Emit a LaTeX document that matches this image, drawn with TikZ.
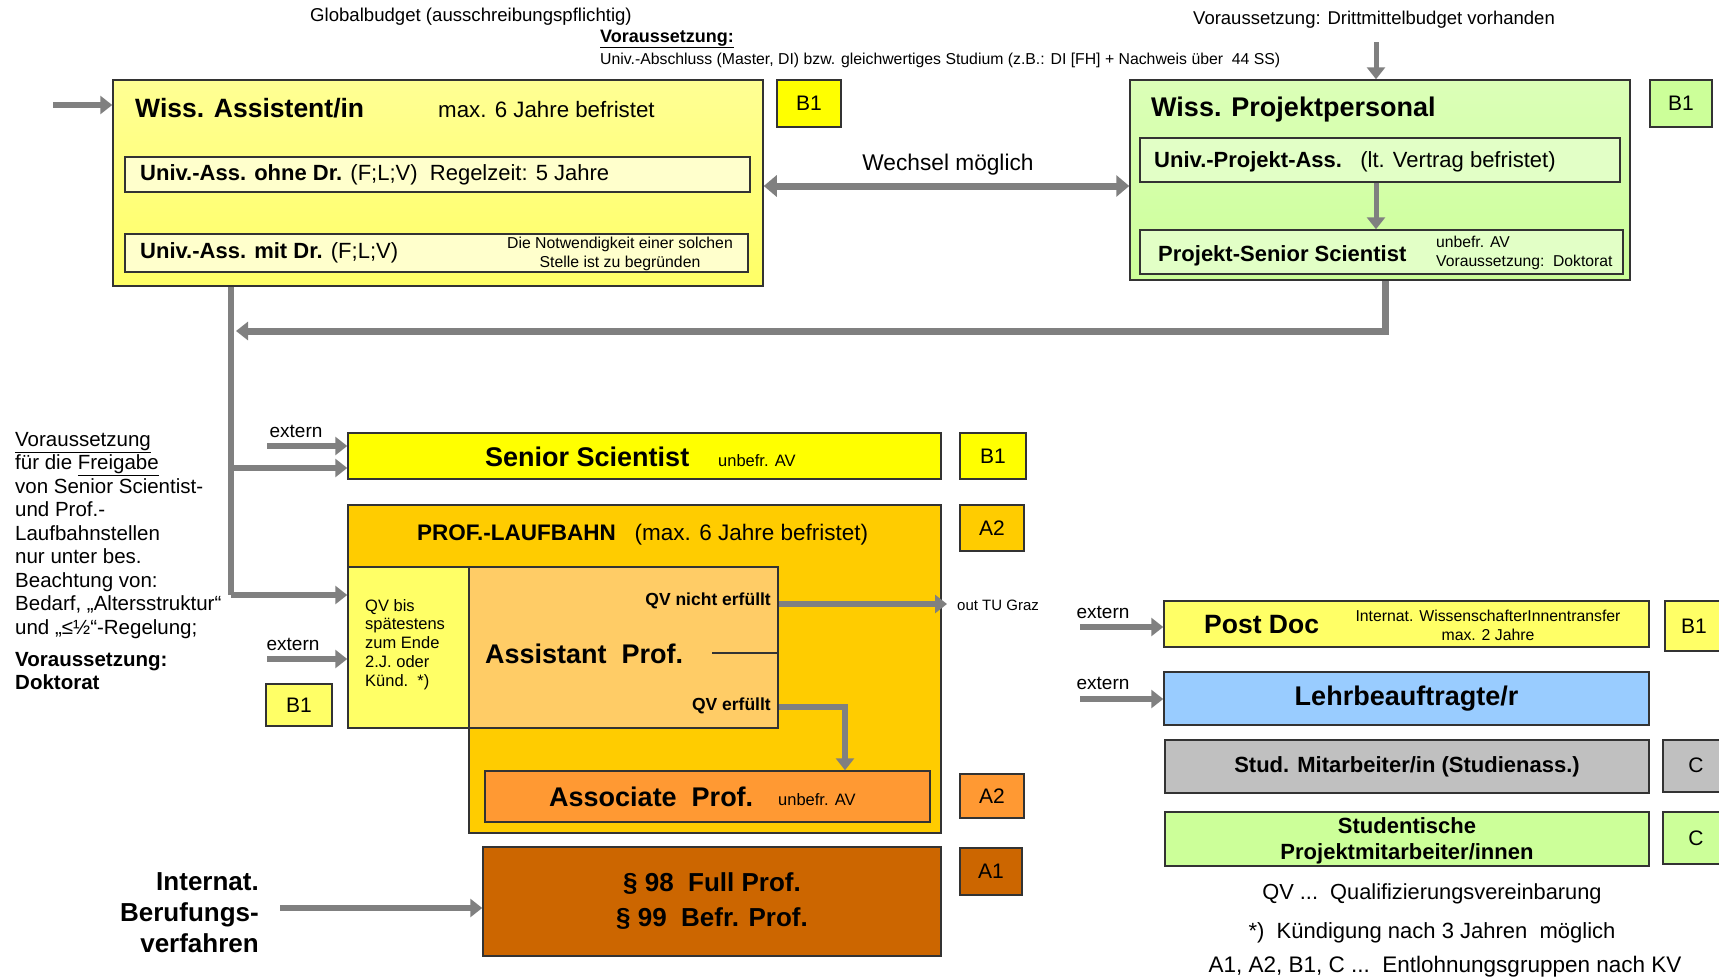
\documentclass[tikz,border=0pt]{standalone}
\usepackage{fontspec}
\setmainfont{Liberation Sans}
\usetikzlibrary{arrows.meta,fit}
\definecolor{ylw}{HTML}{FFFF66}
\definecolor{ylwlt}{HTML}{FFFFCC}
\definecolor{ylwb}{HTML}{FFFF00}
\definecolor{grn}{HTML}{CCFF99}
\definecolor{grnlt}{HTML}{E2FFC6}
\definecolor{gold}{HTML}{FFCC00}
\definecolor{aprof}{HTML}{FFCC66}
\definecolor{orng}{HTML}{FF9933}
\definecolor{dorng}{HTML}{CC6600}
\definecolor{lblue}{HTML}{99CCFF}
\definecolor{gry}{HTML}{C0C0C0}
\definecolor{arr}{HTML}{808080}
\definecolor{edge}{HTML}{333333}
\newcommand\fz[2]{\fontsize{#1}{#2}\selectfont}
\begin{document}
\begin{tikzpicture}[x=1pt,y=-1pt,
  box/.style={draw=edge, line width=1.5pt, inner sep=0pt},
  conn/.style={draw=arr, line width=6pt, -{Triangle[length=12pt,width=18pt]}},
  plainline/.style={draw=arr, line width=6pt},
  txt/.style={inner sep=0pt},
  grp/.style={txt, font=\fz{21}{25}},
]
\fill[white] (0,0) rectangle (1719,977);
\useasboundingbox (0,0) rectangle (1719,977);

% ---------- top texts
\node[txt, anchor=west, font=\fz{18.6}{22}] (gb) at (310,17) {Globalbudget (ausschreibungspflichtig)};
\node[txt, anchor=west, font=\fz{18}{21}\bfseries] (vz) at (600,39) {\underline{Voraussetzung:}};
\node[txt, anchor=west, font=\fz{15.8}{19}] (ua) at (600,60) {Univ.-Abschluss (Master, DI) bzw. gleichwertiges Studium (z.B.: DI [FH] + Nachweis über\ \ 44 SS)};
\node[txt, font=\fz{18.5}{22}] (dm) at (1374,20) {Voraussetzung: Drittmittelbudget vorhanden};

% ---------- Wiss. Assistent/in
\node[box, fit={(113,80)(763,286)}, top color=ylw!70!white, bottom color=ylw] (wa) {};
\node[txt, anchor=west, font=\fz{26.5}{30}\bfseries] (wat) at (135,108) {Wiss. Assistent/in};
\node[txt, anchor=west, font=\fz{22.3}{26}] (wam) at (438,110) {max. 6 Jahre befristet};
\node[box, fit={(777,80)(841,127)}, fill=ylwb] (b1a) {};
\node[grp] (b1at) at (b1a) {B1};
\node[box, fit={(125,157)(750,192)}, fill=ylwlt] (ua1) {};
\node[txt, anchor=west, font=\fz{22}{26}] (ua1t) at (140,175) {\textbf{Univ.-Ass. ohne Dr.} (F;L;V)\ \ Regelzeit: 5 Jahre};
\node[box, fit={(125,234)(748,272)}, fill=ylwlt] (ua2) {};
\node[txt, anchor=west, font=\fz{22}{26}] (ua2t) at (140,253) {\textbf{Univ.-Ass. mit Dr.} (F;L;V)};
\node[txt, align=center, font=\fz{15.8}{19}] (ua2n) at (620,254) {Die Notwendigkeit einer solchen\\Stelle ist zu begründen};
\coordinate (inl) at (53,105);
\draw[conn] (inl) -- (wa.west |- inl);

% ---------- Wiss. Projektpersonal
\node[box, fit={(1130,80)(1630,280)}, top color=grn!70!white, bottom color=grn] (pp) {};
\node[txt, anchor=west, font=\fz{27}{31}\bfseries] (ppt) at (1151,110) {Wiss. Projektpersonal};
\node[box, fit={(1650,80)(1712,127)}, fill=grn] (b1b) {};
\node[grp] (b1bt) at (b1b) {B1};
\node[box, fit={(1140,138)(1620,182)}, fill=grnlt] (pa) {};
\node[txt, anchor=west, font=\fz{22}{26}] (pat) at (1154,162) {\textbf{Univ.-Projekt-Ass.}\ \ \ (lt. Vertrag befristet)};
\node[box, fit={(1140,230)(1623,274)}, fill=grnlt] (ps) {};
\node[txt, anchor=west, font=\fz{22}{26}\bfseries] (pst) at (1158,256) {Projekt-Senior Scientist};
\node[txt, anchor=west, align=left, font=\fz{15.7}{19}] (psn) at (1436,253) {unbefr. AV\\Voraussetzung:\ \ Doktorat};
\draw[conn, line width=5pt] (pa.south -| 1376,0) -- (ps.north -| 1376,0);
\coordinate (dma) at (1376,42);
\draw[conn, line width=5pt] (dma) -- (pp.north -| dma);

% ---------- Wechsel
\node[txt, font=\fz{22.7}{26}] (wm) at (948,165) {Wechsel möglich};
\coordinate (wy) at (0,186);
\draw[draw=arr, line width=7pt, {Triangle[length=13pt,width=21pt]}-{Triangle[length=13pt,width=21pt]}] (wa.east |- wy) -- (pp.west |- wy);

% ---------- trunk & return
\coordinate (rt) at (1385,331);
\coordinate (rtend) at (236,331);
\draw[conn, line width=7pt] (pp.south -| rt) -- (rt) -- (rtend);
\coordinate (trunk) at (231,595);
\coordinate (br1) at (231,468);

% ---------- Senior Scientist
\node[box, fit={(348,433)(941,479)}, fill=ylwb] (ss) {};
\node[txt, anchor=west, font=\fz{27}{31}\bfseries] (sst) at (485,457) {Senior Scientist};
\node[txt, anchor=west, font=\fz{16.5}{19}] (ssn) at (718,461) {unbefr. AV};
\node[box, fit={(960,433)(1026,479)}, fill=ylwb] (b1c) {};
\node[grp] (b1ct) at (b1c) {B1};
\node[txt, font=\fz{19}{22}] (ex1t) at (296,431) {extern};
\coordinate (ex1) at (267,446);
\draw[conn] (ex1) -- (ss.west |- ex1);

% ---------- Prof.-Laufbahn
\draw[draw=edge, line width=1.5pt, fill=gold] (348,505) -- (941,505) -- (941,833) -- (469,833) -- (469,728) -- (348,728) -- cycle;
\node[txt, anchor=west, font=\fz{22.5}{26}] (plt) at (417,535) {\textbf{PROF.-LAUFBAHN}\ \ \ (max. 6 Jahre befristet)};
\node[box, fit={(960,505)(1024,551)}, fill=gold] (a2a) {};
\node[grp] (a2at) at (a2a) {A2};
\node[box, fit={(348,567)(469,728)}, fill=ylw] (qv) {};
\node[txt, anchor=north west, align=left, font=\fz{16.5}{18.8}] (qvt) at (365,599) {QV bis\\spätestens\\zum Ende\\2.J. oder\\Künd.\ \ *)};
\node[box, fit={(469,567)(778,728)}, fill=aprof] (ap) {};
\node[txt, anchor=west, font=\fz{27}{31}\bfseries] (apt) at (485,654) {Assistant\ \ Prof.};
\coordinate (apl) at (712,653);
\draw[edge, line width=1.5pt] (apl) -- (ap.east |- apl);
\node[txt, anchor=east, font=\fz{17.5}{21}\bfseries] (qvn) at (771,601) {QV nicht erfüllt};
\node[txt, anchor=east, font=\fz{17.5}{21}\bfseries] (qve) at (771,706) {QV erfüllt};
\coordinate (outtu) at (947,604);
\draw[conn] (ap.east |- outtu) -- (outtu);
\node[txt, anchor=west, font=\fz{15}{18}] (outt) at (957,605) {out TU Graz};

% ---------- Associate Prof
\node[box, fit={(485,771)(930,822)}, fill=orng] (as) {};
\node[txt, anchor=west, font=\fz{27}{31}\bfseries] (ast) at (549,797) {Associate\ \ Prof.};
\node[txt, anchor=west, font=\fz{16.5}{19}] (asn) at (778,800) {unbefr. AV};
\node[box, fit={(960,774)(1024,818)}, fill=orng] (a2b) {};
\node[grp] (a2bt) at (a2b) {A2};
\coordinate (qvk) at (845,707);
\draw[conn] (ap.east |- qvk) -- (qvk) -- (as.north -| qvk);

% ---------- Full Prof
\node[box, fit={(483,847)(941,956)}, fill=dorng] (fp) {};
\node[txt, align=center, font=\fz{26}{35}\bfseries] (fpt) at (fp) {§ 98\ \ Full Prof.\\§ 99\ \ Befr. Prof.};
\node[box, fit={(960,848)(1022,895)}, fill=dorng] (a1) {};
\node[grp] (a1t) at (a1) {A1};
\node[txt, anchor=north east, align=right, font=\fz{26}{31}\bfseries] (ib) at (259,872) {Internat.\\Berufungs-\\verfahren};
\coordinate (iba) at (280,908);
\draw[conn] (iba) -- (fp.west |- iba);

% ---------- trunk lines
\draw[plainline] (wa.south -| trunk) -- (trunk);
\draw[conn] (trunk) -- (qv.west |- trunk);
\draw[conn] (br1) -- (ss.west |- br1);

% ---------- lower extern
\node[txt, font=\fz{19}{22}] (ex2t) at (293,644) {extern};
\coordinate (ex2) at (267,659);
\draw[conn] (ex2) -- (qv.west |- ex2);
\node[box, fit={(266,684)(332,726)}, fill=ylw] (b1d) {};
\node[grp] (b1dt) at (b1d) {B1};

% ---------- left text
\node[txt, anchor=north west, align=left, font=\fz{20.5}{23.5}] (lt) at (15,432) {\underline{Voraussetzung}\\für die \underline{Freigabe}\\von Senior Scientist-\\und Prof.-\\Laufbahnstellen\\nur unter bes.\\Beachtung von:\\Bedarf, „Altersstruktur“\\und „≤½“-Regelung;};
\node[txt, anchor=north west, align=left, font=\fz{20.5}{23.5}\bfseries] (lt2) at (15,652) {Voraussetzung:\\Doktorat};

% ---------- right column
\node[box, fit={(1164,601)(1649,647)}, fill=ylw] (pd) {};
\node[txt, anchor=west, font=\fz{26.5}{30}\bfseries] (pdt) at (1204,625) {Post Doc};
\node[txt, align=center, font=\fz{15.8}{19}] (pdn) at (1488,625) {Internat. WissenschafterInnentransfer\\max. 2 Jahre};
\node[box, fit={(1665,601)(1730,651)}, fill=ylw] (b1e) {};
\node[grp] (b1et) at (1694,626) {B1};
\node[txt, font=\fz{19}{22}] (ex3t) at (1103,612) {extern};
\coordinate (ex3) at (1080,627);
\draw[conn] (ex3) -- (pd.west |- ex3);

\node[box, fit={(1164,672)(1649,725)}, fill=lblue] (lb) {};
\node[txt, font=\fz{27}{31}\bfseries] (lbt) at (lb) {Lehrbeauftragte/r};
\node[txt, font=\fz{19}{22}] (ex4t) at (1103,683) {extern};
\coordinate (ex4) at (1080,699);
\draw[conn] (ex4) -- (lb.west |- ex4);

\node[box, fit={(1165,740)(1649,793)}, fill=gry] (sm) {};
\node[txt, font=\fz{22}{26}\bfseries] (smt) at (1407,767) {Stud. Mitarbeiter/in (Studienass.)};
\node[box, fit={(1663,740)(1730,792)}, fill=gry] (c1) {};
\node[grp] (c1t) at (1696,765) {C};
\node[box, fit={(1165,812)(1649,866)}, fill=grn] (sp) {};
\node[txt, align=center, font=\fz{22}{26}\bfseries] (spt) at (1407,841) {Studentische\\Projektmitarbeiter/innen};
\node[box, fit={(1663,812)(1730,864)}, fill=grn] (c2) {};
\node[grp] (c2t) at (1696,838) {C};

\node[txt, font=\fz{21.8}{26}] (lg1) at (1432,894) {QV ...\ \ Qualifizierungsvereinbarung};
\node[txt, font=\fz{22}{26}] (lg2) at (1432,933) {*)\ \ Kündigung nach 3 Jahren\ \ möglich};
\node[txt, font=\fz{22.5}{26}] (lg3) at (1445,967) {A1, A2, B1, C ...\ \ Entlohnungsgruppen nach KV};
\end{tikzpicture}
\end{document}
